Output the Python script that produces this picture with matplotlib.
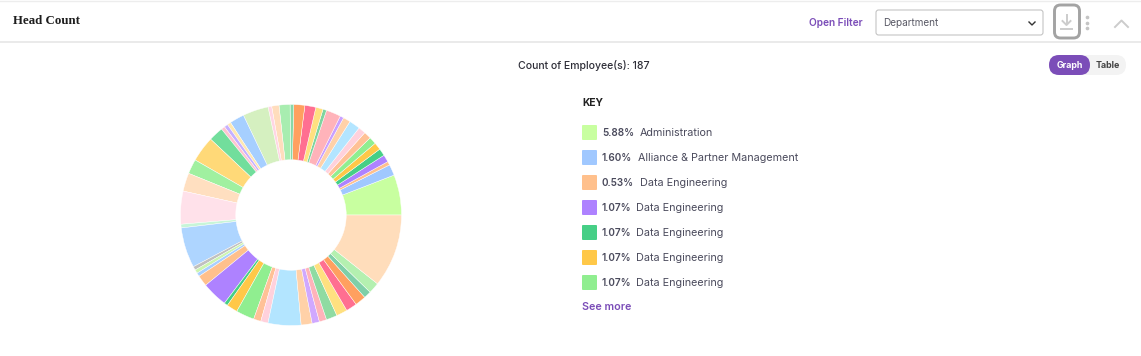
import matplotlib
matplotlib.use("Agg")
import matplotlib.pyplot as plt
from matplotlib.patches import FancyBboxPatch, Rectangle

W, H = 1141, 356

counts = [11, 3, 1, 2, 2, 2, 2, 2, 2, 3, 2, 1, 4, 1, 2, 3, 3, 1,
          3, 2, 1, 7, 4, 1, 1, 1, 4, 7, 4, 5, 9,
          1, 11, 1, 1, 1, 3, 7, 1, 3, 5, 2, 2, 9,
          3, 2, 2, 3, 3, 3, 3, 2, 3, 20]
colors = ["#C8FFA0", "#A0C8FF", "#FFC08C", "#AE82FF", "#46CF86", "#FFC848", "#90EE90",
          "#FFC196", "#FFD1DC", "#B3E5FF", "#FFD1A8", "#C9A0FF", "#FFB3BA", "#7FD49F",
          "#FFE080", "#FF6F91", "#FFA060", "#88D8A8",
          "#A8EDB0", "#FFDDBD", "#FFD6E4", "#D5F0C0", "#A6CFFF", "#FFE8B0", "#C5B0FF",
          "#FFC4D0", "#72DE9C", "#FFD978", "#A0F0A0", "#FFDFC0", "#FFE1EA",
          "#C8F5D8", "#AED5FF", "#C0C0C0", "#CCF5B0", "#A8D0FF", "#FFC08C", "#AE82FF",
          "#46CF86", "#FFC848", "#90EE90", "#FFC196", "#FFD1DC", "#B3E5FF",
          "#FFD1A8", "#D0A8FF", "#FFB3BA", "#8FDBA2", "#FFE080", "#FF6F91", "#FFA060",
          "#7FCFA8", "#B4F0B0", "#FFDDBB"]

title = "Head Count"
chart_caption = "Count of Employee(s): 187"
key_pcts = ["5.88%", "1.60%", "0.53%", "1.07%", "1.07%", "1.07%", "1.07%"]
key_names = ["Administration", "Alliance & Partner Management", "Data Engineering",
             "Data Engineering", "Data Engineering", "Data Engineering", "Data Engineering"]
key_colors = ["#C8FFA0", "#A0C8FF", "#FFC08C", "#AE82FF", "#46CF86", "#FFC848", "#90EE90"]
key_name_x = [640, 637.5, 640, 636.5, 636.5, 636.5, 636.5]

PURPLE = "#7B4DB8"
TEXT = "#4A4A5C"
FONT = "Inter"

fig = plt.figure(figsize=(W / 100, H / 100), dpi=100, facecolor="white")
ui = fig.add_axes([0, 0, 1, 1])
ui.set_xlim(0, W)
ui.set_ylim(H, 0)
ui.axis("off")

# panel frame and header rule
ui.plot([0, W], [0.8, 0.8], color="#EDEDED", lw=1)
ui.plot([0, W], [42, 42], color="#E6E6E6", lw=1.2)
ui.text(13, 20.5, title, family="Liberation Serif", weight="bold", fontsize=9.3,
        color="#1E1E1E", va="center")
ui.text(809, 23.5, "Open Filter", family=FONT, weight="semibold", fontsize=7.3,
        color=PURPLE, va="center")

# dropdown
ui.add_patch(FancyBboxPatch((876, 10), 167, 25, boxstyle="round,pad=0,rounding_size=2.5",
                            fc="white", ec="#BDBDBD", lw=0.7))
ui.text(883, 23.5, "Department", family=FONT, fontsize=7.2, color="#5A5A66", va="center")
ui.plot([1029, 1032, 1035], [22, 25, 22], color="#333333", lw=1.0)

# download button
ui.add_patch(FancyBboxPatch((1054.5, 5), 25, 33, boxstyle="round,pad=0,rounding_size=6",
                            fc="white", ec="#A3A3A3", lw=2.1))
ui.plot([1066.5, 1066.5], [15, 24], color="#CCCCCC", lw=1.4)
ui.plot([1062.5, 1066.5, 1070.5], [21, 25, 21], color="#CCCCCC", lw=1.4)
ui.plot([1061, 1072], [29, 29], color="#CCCCCC", lw=1.4)
ui.scatter([1087, 1087, 1087], [17, 23, 28], s=7, color="#C4C4C4", lw=0)
ui.plot([1115, 1121.5, 1128], [27, 20.5, 27], color="#CCCCCC", lw=1.4)

# caption and toggle
ui.text(584, 65.5, chart_caption, family=FONT, weight="medium", fontsize=7.55,
        color="#2E2E38", ha="center", va="center")
ui.add_patch(FancyBboxPatch((1058, 55), 68, 20, boxstyle="round,pad=0,rounding_size=10",
                            fc="#F3F3F3", ec="none"))
ui.add_patch(FancyBboxPatch((1049, 55), 41, 20, boxstyle="round,pad=0,rounding_size=10",
                            fc=PURPLE, ec="none"))
ui.text(1069.5, 65.5, "Graph", family=FONT, weight="bold", fontsize=6.4, color="white",
        ha="center", va="center")
ui.text(1107.5, 65.5, "Table", family=FONT, weight="bold", fontsize=6.4, color="#444444",
        ha="center", va="center")

# legend
ui.text(582, 103.5, "KEY", family=FONT, weight="bold", fontsize=7.4, color="#222222",
        va="center")
for i, (p, n, c, nx) in enumerate(zip(key_pcts, key_names, key_colors, key_name_x)):
    y = 132.5 + 25 * i
    ui.add_patch(FancyBboxPatch((582, y - 7.5), 15, 15, boxstyle="round,pad=0,rounding_size=1",
                                fc=c, ec="none"))
    ui.text(602, y + 0.5, p, family=FONT, weight="semibold", fontsize=7.2, color=TEXT, va="center")
    ui.text(nx, y + 0.5, n, family=FONT, fontsize=7.75, color=TEXT, va="center")
ui.text(582, 307, "See more", family=FONT, weight="semibold", fontsize=7.7, color=PURPLE,
        va="center")

# donut
cx, cy, R = 291, 215, 110.5
pie = fig.add_axes([(cx - R) / W, 1 - (cy + R) / H, 2 * R / W, 2 * R / H])
pie.pie(counts, colors=colors, startangle=0, counterclock=True, radius=1,
        wedgeprops=dict(width=0.5, edgecolor="white", linewidth=0.3))
pie.set_xlim(-1, 1)
pie.set_ylim(-1, 1)

fig.savefig("out.png", dpi=100, facecolor="white")
